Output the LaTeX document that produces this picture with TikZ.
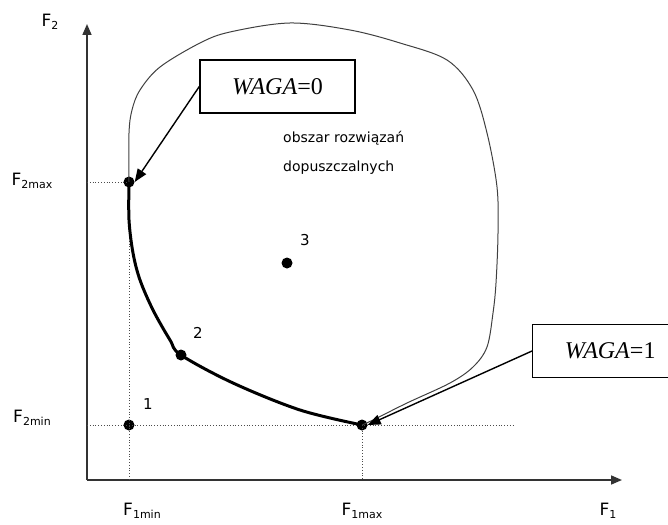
\documentclass[tikz,border=0pt]{standalone}
\usepackage{fontspec}
\setmainfont{Liberation Serif}
\newfontfamily\tah{DejaVu Sans}
\usetikzlibrary{arrows.meta}
\newcommand{\Flab}[1]{{\tah\fontsize{17}{17}\selectfont F\raisebox{-3.5pt}{\fontsize{11}{11}\selectfont #1}}}
\begin{document}
\begin{tikzpicture}[x=1pt,y=-1pt,
  axis/.style={line width=1.6pt, draw=black!80, -{Triangle[length=11pt,width=9pt]}},
  guide/.style={line width=0.8pt, draw=black!70, dotted},
  dot/.style={circle, fill=black, inner sep=0pt, minimum size=11pt},
  lbl/.style={font=\tah\fontsize{14}{14}\selectfont, inner sep=0pt},
  num/.style={font=\tah\fontsize{15}{15}\selectfont, inner sep=0pt},
  flbl/.style={inner sep=0pt},
  wbox/.style={draw, line width=1.4pt, minimum width=155pt, minimum height=53pt, inner sep=0pt, font=\fontsize{24}{24}\selectfont},
  pointer/.style={line width=1.4pt, -{Triangle[length=13pt,width=10pt]}},
  region/.style={line width=1pt, draw=black!75},
  pareto/.style={line width=3pt}]
\useasboundingbox (0,0) rectangle (668,524);
% axes
\coordinate (O) at (87,480);
\coordinate (Ytop) at (87,24);
\coordinate (Xend) at (622,480);
\draw[axis] (O) -- (Ytop);
\draw[axis] (O) -- (Xend);
% key points
\node[dot] (pmax2) at (129,182) {};
\node[dot] (p1) at (129,425) {};
\node[dot] (p2) at (181,355) {};
\node[dot] (p3) at (287,263) {};
\node[dot] (pmax1) at (362,425) {};
% guides
\coordinate (gy2max) at (87,182);
\coordinate (gy2min) at (87,425);
\coordinate (gyend) at (515,425);
\coordinate (gx1min) at (129,480);
\coordinate (gx1max) at (362,480);
\draw[guide] (gy2max) -- (pmax2.center);
\draw[guide] (gy2min) -- (gyend);
\draw[guide] (pmax2.center) -- (gx1min);
\draw[guide] (pmax1.center) -- (gx1max);
% region boundary
\draw[region] plot[smooth, tension=0.55] coordinates {(129,182) (129,133) (132,110) (140,90) (160,67) (200,43) (230,32) (290,23) (350,30) (400,43) (447,60) (473,90) (487,133) (497,187) (498,233) (496,283) (493,313) (487,347) (473,367) (450,383) (407,403) (373,420) (362,425)};
% pareto front
\draw[pareto] plot[smooth, tension=0.55] coordinates {(129,182) (129,220) (133,253) (140,280) (153,310) (170,340) (181,355) (233,383) (300,410) (362,425)};
% labels
\node[flbl] (lF2) at (50,22) {\Flab{2}};
\node[flbl] (lF2max) at (32,181) {\Flab{2max}};
\node[flbl] (lF2min) at (32,418) {\Flab{2min}};
\node[flbl] (lF1min) at (142,511) {\Flab{1min}};
\node[flbl] (lF1max) at (362,511) {\Flab{1max}};
\node[flbl] (lF1) at (608,511) {\Flab{1}};
\node[num] (l1) at (148,404) {1};
\node[num] (l2) at (198,333) {2};
\node[num] (l3) at (305,240) {3};
\node[lbl, anchor=west] (reg1) at (283,138) {obszar rozwiązań};
\node[lbl, anchor=west] (reg2) at (283,168) {dopuszczalnych};
% boxes
\node[wbox] (w0) at (277.5,86.5) {\textit{WAGA}=0};
\node[wbox, anchor=west] (w1) at (532,351) {\textit{WAGA}=1};
\draw[pointer] (w0.west) -- (pmax2.east);
\draw[pointer] (w1.west) -- (pmax1.east);
\end{tikzpicture}
\end{document}
